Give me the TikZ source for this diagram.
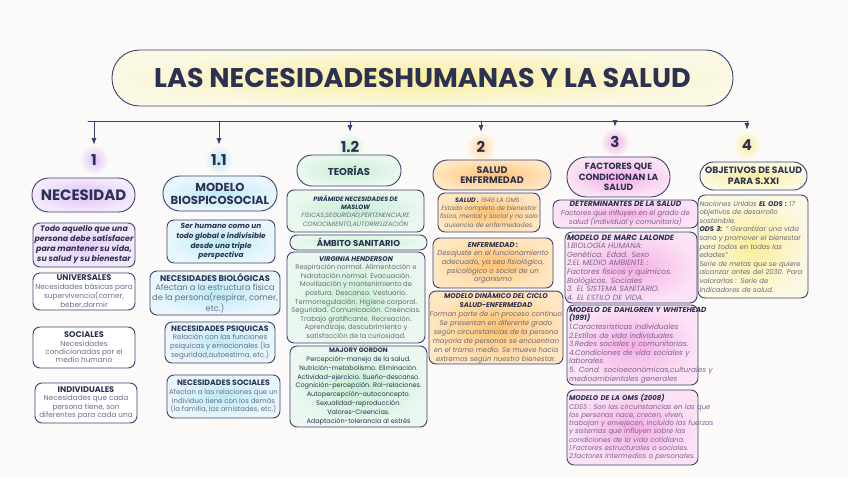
\documentclass[tikz,border=0pt]{standalone}
\usepackage{fontspec}
\setmainfont{Poppins}
\usetikzlibrary{arrows.meta,calc}

\definecolor{ink}{HTML}{2B3152}
\definecolor{rim}{HTML}{3B4270}
\definecolor{soft}{HTML}{6A6E88}
\definecolor{grisbody}{HTML}{6C6A78}
\definecolor{rosabody}{HTML}{7A6690}
\definecolor{paper}{HTML}{FCFAF8}
\definecolor{lila}{HTML}{E0BFF8}
\definecolor{lilalt}{HTML}{F4EAFC}
\definecolor{cielo}{HTML}{BCEAF8}
\definecolor{cielolt}{HTML}{E9F7FC}
\definecolor{menta}{HTML}{C6EFD2}
\definecolor{mentalt}{HTML}{EAF8EF}
\definecolor{naranja}{HTML}{FFC270}
\definecolor{naranjalt}{HTML}{FFE6C0}
\definecolor{rosa}{HTML}{F5AEE4}
\definecolor{rosalt}{HTML}{FBE3F5}
\definecolor{limon}{HTML}{FAEE98}
\definecolor{limonlt}{HTML}{FBF8E4}

\newcommand{\cabeza}[2][]{{#1\bfseries\color{ink}#2}}

\tikzset{
  capsule/.style={rectangle, rounded corners=#1, draw=rim, line width=0.9pt, align=center, text=ink, inner sep=0pt},
  card/.style={rectangle, draw=rim, line width=0.9pt, rounded corners=7pt, align=center, text=soft, inner sep=1pt},
  glow/.style={circle, minimum size=30pt, inner sep=0pt, text=ink, font=\fontsize{15}{15}\selectfont\bfseries},
  tint/.style 2 args={shading=radial, inner color=#1, outer color=#2},
}

\begin{document}
\begin{tikzpicture}[x=1pt, y=-1pt, >=Latex, line cap=round, line join=round]
    \fill[paper] (0,0) rectangle (848,477);
    \useasboundingbox (0,0) rectangle (848,477);

    \node[capsule=27.5pt, tint={limon}{limonlt}, minimum width=621pt, minimum height=56pt,
          font=\fontsize{27}{27}\selectfont\bfseries] (title) at (422.5,78) {LAS NECESIDADESHUMANAS Y LA SALUD};

    \coordinate (barL) at (88,121);
    \coordinate (barR) at (748,121);
    \draw[rim, line width=1pt] (barL) -- (barR);

    % numeros
    \node[glow, tint={lila}{paper}] (n1) at (94,160) {1};
    \node[glow, tint={cielo}{paper}] (n11) at (219,160) {1.1};
    \node[glow, tint={menta}{paper}] (n12) at (350,147) {1.2};
    \node[glow, tint={naranja!70}{paper}] (n2) at (481,147) {2};
    \node[glow, tint={rosa}{paper}] (n3) at (615,142) {3};
    \node[glow, tint={limon}{paper}] (n4) at (747,145) {4};

    \foreach \n in {n1,n11,n12,n2,n3,n4}
        \draw[->, rim, line width=0.8pt] (\n.north |- barL) -- (\n.north);

    % 1 necesidad
    \node[capsule=16.5pt, tint={lila}{lilalt}, minimum width=103pt, minimum height=34pt,
          font=\fontsize{15}{16}\selectfont\bfseries] (necesidad) at (83.5,195) {NECESIDAD};
    \node[card, tint={lila!80}{lilalt}, minimum width=102pt, minimum height=44pt, text=ink,
          font=\fontsize{7.9}{10}\selectfont\bfseries\itshape] (todo) at (84,245)
          {Todo aquello que una\\persona debe satisfacer\\para mantener su vida,\\su salud y su bienestar};
    \node[card, fill=white, minimum width=102pt, minimum height=37pt,
          font=\fontsize{7.3}{8.4}\selectfont] (universales) at (84,291.5)
          {\cabeza[\fontsize{8.2}{8.4}\selectfont]{UNIVERSALES}\\Necesidades básicas para\\supervivencia(comer,\\beber,dormir};
    \node[card, fill=white, minimum width=102pt, minimum height=41pt,
          font=\fontsize{7.3}{8.4}\selectfont] (sociales) at (84,347.5)
          {\cabeza[\fontsize{8.2}{8.4}\selectfont]{SOCIALES}\\Necesidades\\condicionadas por el\\medio humano};
    \node[card, fill=white, minimum width=102pt, minimum height=40pt,
          font=\fontsize{7.3}{8.4}\selectfont] (individuales) at (86,403)
          {\cabeza[\fontsize{8.2}{8.4}\selectfont]{INDIVIDUALES}\\Necesidades que cada\\persona tiene,  son\\diferentes para cada una};

    % 1.1 modelo
    \node[capsule=17pt, tint={cielo}{cielolt}, minimum width=114pt, minimum height=35pt,
          font=\fontsize{11.6}{13}\selectfont\bfseries] (modelo) at (220,193.5) {MODELO\\BIOSPICOSOCIAL};
    \node[card, tint={cielo}{cielolt}, minimum width=108pt, minimum height=43pt, text=ink,
          font=\fontsize{7.3}{9.6}\selectfont\bfseries\itshape] (humano) at (221,241.5)
          {Ser humano como un\\todo global e indivisible\\desde una triple\\perspectiva};
    \node[card, tint={cielo}{cielolt}, minimum width=130pt, minimum height=44pt,
          font=\fontsize{8.3}{9.6}\selectfont] (biologicas) at (215,293)
          {\cabeza{NECESIDADES BIOLÓGICAS}\\Afectan a la estructura física\\de la persona(respirar, comer,\\etc.)};
    \node[card, tint={cielo}{cielolt}, minimum width=110pt, minimum height=41pt,
          font=\fontsize{7.1}{8.8}\selectfont] (psiquicas) at (220,342.5)
          {\cabeza[\fontsize{7.8}{8.8}\selectfont]{NECESIDADES PSIQUICAS}\\Relación con las funciones\\psiquicas y emocionales (la\\seguridad,autoestima, etc.)};
    \node[card, tint={cielo}{cielolt}, minimum width=113pt, minimum height=43pt,
          font=\fontsize{6.9}{8.8}\selectfont] (socialesb) at (223.5,396.5)
          {\cabeza[\fontsize{7.8}{8.8}\selectfont]{NECESIDADES SOCIALES}\\Afectan a las relaciones que un\\individuo tiene con los demás\\(la familia, las amistades, etc.)};

    % 1.2 teorias
    \node[capsule=15pt, tint={menta}{mentalt}, minimum width=104pt, minimum height=31pt,
          font=\fontsize{10}{11}\selectfont\bfseries] (teorias) at (349,170.5) {TEORÍAS};
    \node[card, tint={menta}{mentalt}, minimum width=137pt, minimum height=42pt, text=grisbody,
          font=\fontsize{6.3}{8.3}\selectfont\itshape] (maslow) at (355.5,211)
          {\cabeza{PIRÁMIDE NECESIDADES DE}\\\cabeza{MASLOW}\\FISICAS,SEGURIDAD,PERTENENCIA,RE\\CONOCIMIENTO,AUTORRELIZACIÓN};
    \node[capsule=7pt, tint={menta}{mentalt}, minimum width=137pt, minimum height=15pt,
          font=\fontsize{8.6}{9}\selectfont\bfseries] (ambito) at (358.5,242.5) {ÁMBITO SANITARIO};
    \node[card, tint={menta}{mentalt}, minimum width=138pt, minimum height=91pt, text=grisbody,
          font=\fontsize{6.8}{8.6}\selectfont] (henderson) at (356,297.5)
          {\cabeza{\itshape VIRGINIA HENDERSON}\\Respiración normal. Alimentación e\\hidratación normal. Evacuación.\\Movilización y mantenimiento de\\postura.  Descanso. Vestuario.\\Termorregulación. Higiene corporal.\\Seguridad. Comunicación. Creencias.\\Trabajo gratificante. Recreación.\\Aprendizaje, descubrimiento y\\satisfacción de la curiosidad.};
    \node[card, tint={menta}{mentalt}, minimum width=137pt, minimum height=81pt, text=ink,
          font=\fontsize{6.5}{8.8}\selectfont] (gordon) at (358.5,386.5)
          {\cabeza{MAJORY GORDON}\\Percepción-manejo de la salud.\\Nutrición-metabolismo. Eliminación.\\Actividad-ejercicio. Sueño-descanso.\\Cognición-percepción. Rol-relaciones.\\Autopercepción-autoconcepto.\\Sexualidad-reproducción.\\Valores-Creencias.\\Adaptación-tolerancia al estrés};

    % 2 salud enfermedad
    \node[capsule=14.5pt, tint={naranja}{naranjalt}, minimum width=118pt, minimum height=30pt,
          font=\fontsize{9.5}{10.5}\selectfont\bfseries] (saludenf) at (492,175) {SALUD\\ENFERMEDAD};
    \node[card, tint={naranja}{naranjalt}, minimum width=102pt, minimum height=39pt, text=grisbody,
          font=\fontsize{6.3}{8.3}\selectfont\itshape] (salud) at (489,212.5)
          {\cabeza{SALUD .}  1946  LA OMS :\\Estado completo de bienestar\\físico, mental y social y no solo\\ausencia de enfermedades.};
    \node[card, tint={naranja}{naranjalt}, minimum width=120pt, minimum height=50pt, text=grisbody,
          font=\fontsize{7}{8.6}\selectfont\itshape] (enfermedad) at (493,263)
          {\cabeza{ENFERMEDAD :}\\Desajuste en el funcionamiento\\adecuado, ya sea fisiológico,\\psicológico o social de un\\organismo};
    \node[card, tint={naranja}{naranjalt}, minimum width=128pt, minimum height=71pt, text=grisbody,
          font=\fontsize{6.9}{8.9}\selectfont\itshape] (dinamico) at (496,327.5)
          {\cabeza{MODELO DINÁMICO DEL CICLO}\\\cabeza{SALUD-ENFERMEDAD}\\Forman parte de un proceso continuo\\Se presentan en diferente grado\\según circunstancias de la persona\\mayoría de personas se encuentran\\en el tramo medio. Se mueve hacia\\extremos según nuestro bienestar.};

    % 3 factores
    \node[capsule=19.5pt, tint={rosa}{rosalt}, minimum width=103pt, minimum height=40pt,
          font=\fontsize{9}{10.5}\selectfont\bfseries] (factores) at (618.5,177) {FACTORES QUE\\CONDICIONAN LA\\SALUD};
    \node[card, tint={rosa}{rosalt}, minimum width=145pt, minimum height=28pt, text=rosabody,
          font=\fontsize{7}{8.4}\selectfont\itshape] (determinantes) at (625.5,214)
          {\cabeza[\fontsize{7.6}{8.4}\selectfont]{DETERMINANTES DE LA SALUD}\\Factores  que influyen en el grado de\\salud (individual  y comunitaria)};
    \node[card, tint={rosa}{rosalt}, minimum width=132pt, minimum height=71pt, text=rosabody, align=left,
          inner sep=2pt, text width=128pt, font=\fontsize{7.6}{8.6}\selectfont\itshape] (lalonde) at (631,267.5)
          {\cabeza{MODELO DE MARC LALONDE}\\1.BIOLOGÍA HUMANA:\\Genética. Edad. Sexo\\2.EL MEDIO AMBIENTE :\\Factores físicos y químicos.\\Biológicos. Sociales\\3. EL SISTEMA SANITARIO.\\4. EL ESTILO DE VIDA.};
    \node[card, tint={rosa}{rosalt}, minimum width=131pt, minimum height=80pt, text=rosabody, align=left,
          inner sep=2pt, text width=127pt, font=\fontsize{7.3}{8.6}\selectfont\itshape] (dahlgren) at (632.5,345)
          {\mbox{\cabeza{MODELO DE DAHLGREN Y WHITEHEAD}}\\\cabeza{(1991)}\\1.Caractesrísticas individuales\\2.Estilos de vida individuales.\\3.Redes sociales y comunitarias.\\4.Condiciones de vida sociales y\\laborales.\\\mbox{5. Cond. socioeconómicas,culturales y}\\medioambientales generales};
    \node[card, tint={rosa}{rosalt}, minimum width=131pt, minimum height=75pt, text=rosabody, align=left,
          inner sep=2pt, text width=127pt, font=\fontsize{6.9}{8.3}\selectfont\itshape] (oms) at (632.5,427.5)
          {\cabeza{MODELO DE LA OMS (2008)}\\\mbox{CDSS : Son las circunstancias en las que}\\las personas nace, crecen, viven,\\\mbox{trabajan y envejecen, incluido las fuerzas}\\y sistemas que influyen sobre las\\condiciones de la vida cotidiana.\\1.Factores estructurales o sociales.\\2.factores intermedios o personales.};

    % 4 objetivos
    \node[capsule=13.5pt, tint={limon}{limonlt}, minimum width=107pt, minimum height=28pt,
          font=\fontsize{9.2}{10.5}\selectfont\bfseries] (objetivos) at (753.5,176) {OBJETIVOS DE SALUD\\PARA S.XXI};
    \node[card, tint={limon}{limonlt}, minimum width=110pt, minimum height=103pt, text=grisbody, align=left,
          inner sep=1.5pt, text width=107pt, font=\fontsize{6.8}{8.6}\selectfont\itshape] (naciones) at (753,246.5)
          {Naciones Unidas \cabeza{EL ODS :} 17\\objetivos de desarrollo\\sostenible.\\\cabeza{ODS 3:} " Garantizar una vida\\sana y promover el bienestar\\para todos en todas las\\edades"\\Serie de metas que se quiere\\alcanzar antes del 2030. Para\\valorarlas : Serie de\\indicadores de salud.};

\end{tikzpicture}
\end{document}
